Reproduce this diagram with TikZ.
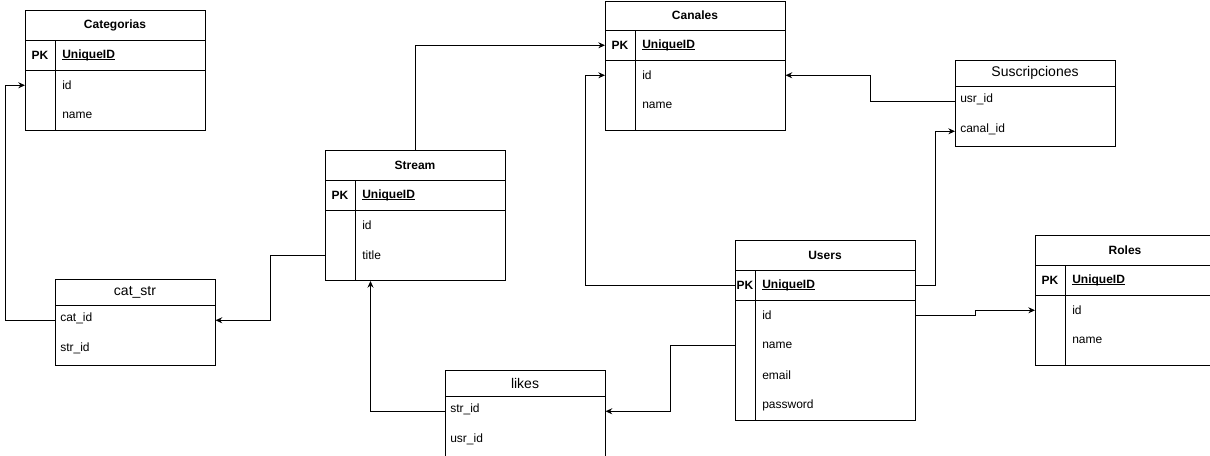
\documentclass[tikz,border=0pt]{standalone}
\usepackage{fontspec}
\setmainfont{Liberation Sans}
\usetikzlibrary{arrows.meta}

% bold key name with a thin underline just below the baseline
\newcommand\keyname[1]{\setbox0\hbox{\bfseries #1}\rlap{\rule[-0.9pt]{\wd0}{0.6pt}}\box0}

\begin{document}
\begin{tikzpicture}[x=0.75pt,y=-0.75pt,
  tbl/.style={draw, line width=0.75pt, rectangle, inner sep=0pt, anchor=north west},
  rowbox/.style={rectangle, inner sep=0pt, anchor=north west, minimum height=22.5pt},
  ttl/.style={font=\fontsize{9}{11}\selectfont\bfseries, inner sep=0pt},
  ttlb/.style={font=\fontsize{10.5}{12}\selectfont, inner sep=0pt},
  fld/.style={font=\fontsize{9}{11}\selectfont, anchor=west, inner sep=0pt},
  pk/.style={font=\fontsize{9}{11}\selectfont\bfseries, inner sep=0pt},
  sep/.style={line width=0.75pt},
  conn/.style={line width=0.75pt, -{Stealth[length=5pt,width=4.5pt]}}]

\fill[white] (0,0) rectangle (1210,455);
\useasboundingbox (0,0) rectangle (1210,455);
\clip (0,0) rectangle (1210,455);

% ---------- Categorias ----------
\node[tbl, minimum width=135pt, minimum height=90pt] (categorias) at (25,10) {};
\node[ttl] (categorias-t) at (115,25) {Categorias};
\draw[sep] (25,40) -- (205,40) (25,70) -- (205,70) (55,40) -- (55,130);
\node[rowbox, minimum width=135pt] (categorias-pk) at (25,40) {};
\node[rowbox, minimum width=135pt] (categorias-id) at (25,70) {};
\node[rowbox, minimum width=135pt] (categorias-name) at (25,100) {};
\node[pk] at (40,55) {PK};
\node[fld] at (62,55) {\keyname{UniqueID}};
\node[fld] at (62,85) {id};
\node[fld] at (62,115) {name};

% ---------- Canales ----------
\node[tbl, minimum width=135pt, minimum height=97.125pt] (canales) at (605,0.5) {};
\node[ttl] (canales-t) at (695,15) {Canales};
\draw[sep] (605,30) -- (785,30) (605,60) -- (785,60) (635,30) -- (635,130);
\node[rowbox, minimum width=135pt] (canales-pk) at (605,30) {};
\node[rowbox, minimum width=135pt] (canales-id) at (605,60) {};
\node[rowbox, minimum width=135pt] (canales-name) at (605,90) {};
\node[pk] at (620,45) {PK};
\node[fld] at (642,45) {\keyname{UniqueID}};
\node[fld] at (642,75) {id};
\node[fld] at (642,105) {name};

% ---------- Suscripciones ----------
\node[tbl, minimum width=120pt, minimum height=64.5pt] (susc) at (955,60) {};
\node[ttlb] (susc-t) at (1035,73) {Suscripciones};
\draw[sep] (955,86) -- (1115,86);
\node[rowbox, minimum width=120pt] (susc-usr) at (955,86) {};
\node[rowbox, minimum width=120pt] (susc-canal) at (955,116) {};
\node[fld] at (960,99) {usr\_id};
\node[fld] at (960,129) {canal\_id};

% ---------- Stream ----------
\node[tbl, minimum width=135pt, minimum height=97.5pt] (stream) at (325,150) {};
\node[ttl] (stream-t) at (415,165) {Stream};
\draw[sep] (325,180) -- (505,180) (325,210) -- (505,210) (355,180) -- (355,280);
\node[rowbox, minimum width=135pt] (stream-pk) at (325,180) {};
\node[rowbox, minimum width=135pt] (stream-id) at (325,210) {};
\node[rowbox, minimum width=135pt] (stream-title) at (325,240) {};
\node[pk] at (340,195) {PK};
\node[fld] at (362,195) {\keyname{UniqueID}};
\node[fld] at (362,225) {id};
\node[fld] at (362,255) {title};

% ---------- cat_str ----------
\node[tbl, minimum width=120pt, minimum height=64.5pt] (catstr) at (55,279) {};
\node[ttlb] (catstr-t) at (135,292) {cat\_str};
\draw[sep] (55,305) -- (215,305);
\node[rowbox, minimum width=120pt] (catstr-cat) at (55,305) {};
\node[rowbox, minimum width=120pt] (catstr-str) at (55,335) {};
\node[fld] at (60,318) {cat\_id};
\node[fld] at (60,348) {str\_id};

% ---------- Users ----------
\node[tbl, minimum width=135pt, minimum height=135pt] (users) at (735,240) {};
\node[ttl] (users-t) at (825,255) {Users};
\draw[sep] (735,270) -- (915,270) (735,300) -- (915,300) (755,270) -- (755,420);
\node[rowbox, minimum width=135pt] (users-pk) at (735,270) {};
\node[rowbox, minimum width=135pt] (users-id) at (735,300) {};
\node[rowbox, minimum width=135pt] (users-name) at (735,330) {};
\node[rowbox, minimum width=135pt] (users-email) at (735,360) {};
\node[rowbox, minimum width=135pt] (users-password) at (735,390) {};
\node[pk] at (745,285) {PK};
\node[fld] at (762,285) {\keyname{UniqueID}};
\node[fld] at (762,315) {id};
\node[fld] at (762,345) {name};
\node[fld] at (762,375) {email};
\node[fld] at (762,405) {password};

% ---------- Roles ----------
\node[tbl, minimum width=135pt, minimum height=97.5pt] (roles) at (1035,235) {};
\node[ttl] (roles-t) at (1125,250) {Roles};
\draw[sep] (1035,265) -- (1215,265) (1035,295) -- (1215,295) (1065,265) -- (1065,365);
\node[rowbox, minimum width=135pt] (roles-pk) at (1035,265) {};
\node[rowbox, minimum width=135pt] (roles-id) at (1035,295) {};
\node[rowbox, minimum width=135pt] (roles-name) at (1035,325) {};
\node[pk] at (1050,280) {PK};
\node[fld] at (1072,280) {\keyname{UniqueID}};
\node[fld] at (1072,310) {id};
\node[fld] at (1072,340) {name};

% ---------- likes ----------
\node[tbl, minimum width=120pt, minimum height=64.5pt] (likes) at (445,370) {};
\node[ttlb] (likes-t) at (525,383) {likes};
\draw[sep] (445,396) -- (605,396);
\node[rowbox, minimum width=120pt] (likes-str) at (445,396) {};
\node[rowbox, minimum width=120pt] (likes-usr) at (445,426) {};
\node[fld] at (450,409) {str\_id};
\node[fld] at (450,439) {usr\_id};

% ---------- relations ----------
\draw[conn] (catstr-cat.west) -- ++(-50,0) |- (categorias-id.west);
\draw[conn] (stream-title.west) -- ++(-55,0) |- (catstr-cat.east);
\draw[conn] (stream.north) |- (canales-pk.west);
\draw[conn] (users-pk.west) -- ++(-150,0) |- (canales-id.west);
\draw[conn] (susc-usr.west) -- ++(-85,0) |- (canales-id.east);
\draw[conn] (users-pk.east) -- ++(20,0) |- (susc-canal.west);
\draw[conn] (users-id.east) -- ++(60,0) |- (roles-id.west);
\draw[conn] (users-name.west) -- ++(-65,0) |- (likes-str.east);
\draw[conn] (likes-str.west) -| ([xshift=-33.75pt]stream.south);

\end{tikzpicture}
\end{document}
